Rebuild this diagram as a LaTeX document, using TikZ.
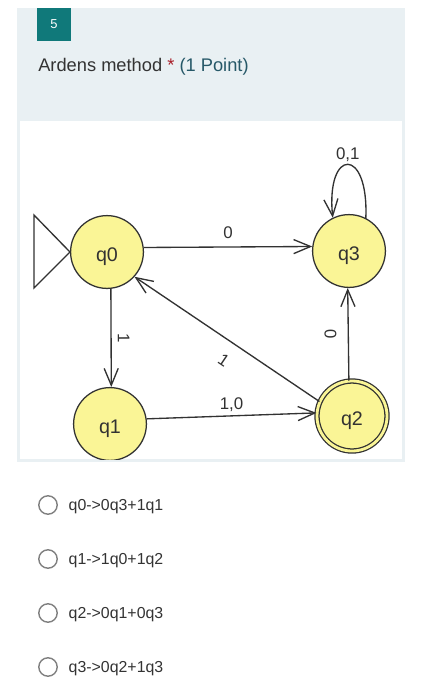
\documentclass[tikz,border=0pt]{standalone}
\usepackage{fontspec}
\setmainfont{Liberation Sans}
\usetikzlibrary{arrows.meta,positioning}

\definecolor{panelbg}{RGB}{233,240,243}
\definecolor{numteal}{RGB}{16,121,122}
\definecolor{pointteal}{RGB}{38,88,104}
\definecolor{starred}{RGB}{168,30,40}
\definecolor{statefill}{RGB}{250,245,150}
\definecolor{linegray}{RGB}{50,50,50}
\definecolor{radiogray}{RGB}{128,128,128}
\definecolor{textgray}{RGB}{51,51,51}

\begin{document}
\begin{tikzpicture}[x=0.025cm, y=-0.025cm,
        state/.style={circle, draw=linegray, fill=statefill, line width=0.9pt,
                minimum size=1.82cm, inner sep=0pt, text=linegray,
                text height=14.2pt, text depth=0pt, font=\fontsize{14}{16}\selectfont},
        accept/.style={state, double=statefill, double distance=2pt, minimum size=1.75cm},
        edge/.style={-{Straight Barb[length=12pt,width=10pt]}, draw=linegray, line width=0.95pt},
        lab/.style={font=\fontsize{12}{14}\selectfont, text=linegray, inner sep=1pt, text depth=0pt},
        numbox/.style={fill=numteal, text=white, minimum size=0.825cm, inner sep=0pt,
                font=\fontsize{9.2}{11}\selectfont},
        radio/.style={circle, draw=radiogray, line width=1pt, minimum size=0.46cm, inner sep=0pt},
        opt/.style={font=\fontsize{11.3}{13}\selectfont, text=textgray, inner sep=0pt, text depth=0pt}
    ]
    \useasboundingbox (0,0) rectangle (423,700);

    % question panel
    \fill[panelbg] (17,8) rectangle (405,462);
    \fill[white] (20,121) rectangle (402,459);
    \node[numbox] (qnum) at (54,24) {5};
    \node[anchor=base west, inner sep=0pt, text=textgray, font=\fontsize{13}{15}\selectfont]
        (title) at (38,71) {Ardens method \textcolor{starred}{*} \textcolor{pointteal}{(1 Point)}};

    % automaton
    \begin{scope}
        \clip (20,121) rectangle (402,459);
        \node[state] (q0) at (107,252) {q0};
        \node[state] (q3) at (349,251) {q3};
        \node[state] (q1) at (110,424) {q1};
        \node[accept] (q2) at (352,416) {q2};

        \draw[linegray, line width=0.95pt] (q0.west) -- ++(-36,-37) -- ++(0,73) -- cycle;

        \draw[edge] (q0.7) -- node[lab, above=4.5pt] {0} (q3.173);
        \draw[edge] (q0.276) -- node[lab, sloped, above=3.3pt] {1} (q1.88);
        \draw[edge] (q1.8) -- node[lab, above=3.3pt] {1,0} (q2.175);
        \draw[edge] (q2.95) -- node[lab, sloped, below=7pt] {0} (q3.268);
        \draw[edge] (q2.156) -- node[lab, sloped, below=8pt, pos=0.46] {1} (q0.-42);
        \draw[edge] (q3.63) .. controls +(3,-72) and +(-7,-70) .. node[lab, above=2.5pt] {0,1} (q3.116);
    \end{scope}

    % answer options
    \foreach \i/\y/\t in {0/505/{q0->0q3+1q1}, 1/559/{q1->1q0+1q2},
            2/613/{q2->0q1+0q3}, 3/667/{q3->0q2+1q3}} {
        \node[radio] (radio\i) at (48,\y) {};
        \node[opt, right=7.5pt of radio\i] (opt\i) {\t};
    }
\end{tikzpicture}
\end{document}
